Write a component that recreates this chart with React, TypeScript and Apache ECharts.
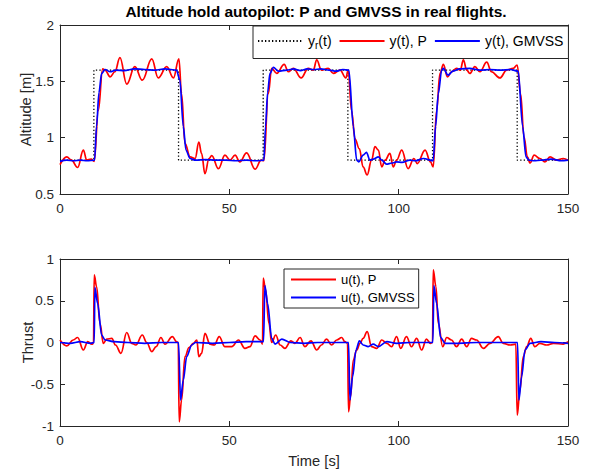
import React, { useEffect, useRef } from "react";
import * as echarts from "echarts";

// ---------- data ----------
const refT = [0, 10, 10, 35, 35, 60, 60, 85, 85, 110, 110, 135, 135, 150];
const refY = [0.8, 0.8, 1.6, 1.6, 0.8, 0.8, 1.6, 1.6, 0.8, 0.8, 1.6, 1.6, 0.8, 0.8];

const yPT = [0, 2, 3.4, 5.2, 6.9, 7.9, 9.2, 10.1, 11.3, 12.6, 13.3, 14.8, 16.2, 17.7, 19.7, 22.1, 24.3, 27.1, 29, 31.5, 33.5, 35.1, 35.9, 36.9, 38.4, 39.9, 41, 41.8, 42.8, 44, 44.8, 46.8, 48.7, 50.2, 51.7, 53.1, 55.1, 57.6, 59.4, 60.2, 61.5, 62.5, 64, 66.2, 67.4, 68.9, 71.2, 73.3, 74.8, 75.8, 77.2, 79.2, 80.7, 82.7, 84.4, 85.1, 86.1, 87.1, 88.4, 89.5, 90.7, 92, 93, 94, 95, 96, 97.4, 98.4, 99.4, 100.9, 102.8, 104.5, 105.5, 107.8, 109.4, 110.2, 111.2, 112.2, 113.2, 114.4, 115.6, 117.1, 118.2, 119.1, 120.1, 121, 122.5, 124, 126, 127.4, 129.9, 131.9, 133.8, 135, 136, 137, 138, 138.8, 140, 141.7, 143.2, 144.7, 146.6, 148.6, 150];
const yPV = [0.76, 0.83, 0.8, 0.735, 0.89, 0.8, 0.81, 0.79, 1.24, 1.61, 1.6, 1.54, 1.585, 1.71, 1.475, 1.63, 1.51, 1.7, 1.53, 1.63, 1.53, 1.7, 1.39, 0.95, 0.83, 0.815, 0.96, 0.86, 0.68, 0.815, 0.84, 0.725, 0.845, 0.8, 0.845, 0.785, 0.865, 0.72, 0.8, 0.795, 1.39, 1.615, 1.57, 1.65, 1.585, 1.615, 1.53, 1.615, 1.6, 1.69, 1.6, 1.615, 1.57, 1.6, 1.53, 1.6, 1.24, 0.99, 0.9, 0.74, 0.67, 0.8, 0.92, 0.89, 0.74, 0.8, 0.86, 0.74, 0.8, 0.89, 0.725, 0.815, 0.77, 0.89, 0.785, 0.74, 1.24, 1.57, 1.65, 1.54, 1.585, 1.615, 1.6, 1.69, 1.6, 1.57, 1.63, 1.585, 1.67, 1.585, 1.53, 1.6, 1.615, 1.645, 1.39, 1.01, 0.83, 0.775, 0.845, 0.815, 0.785, 0.83, 0.8, 0.815, 0.8];

const yGT = [0, 2, 4, 6, 8, 10.2, 10.8, 11.5, 12.3, 13.3, 14.8, 16.5, 19, 22, 25, 28, 31, 34.4, 35.4, 36.4, 37.2, 38.4, 40, 43, 46, 49, 52, 55, 58, 60.2, 60.7, 61.3, 62, 63, 64.5, 67, 69, 71, 73, 75, 77, 79.5, 81.5, 83.5, 85.3, 86.6, 87.6, 88.2, 89.5, 90.5, 91.5, 92.5, 94, 95, 96.4, 98, 99.4, 101, 103.3, 105, 107.3, 110.2, 110.9, 111.7, 112.7, 113.2, 114.6, 116, 118, 121, 124, 127, 130, 133, 135.3, 136.6, 137.6, 138.5, 140, 142, 145, 148, 150];
const yGV = [0.79, 0.8, 0.795, 0.8, 0.795, 0.8, 1.1, 1.4, 1.57, 1.605, 1.585, 1.6, 1.595, 1.61, 1.605, 1.6, 1.61, 1.6, 1.51, 1.1, 0.89, 0.815, 0.8, 0.805, 0.8, 0.8, 0.795, 0.8, 0.795, 0.8, 1.1, 1.4, 1.57, 1.625, 1.59, 1.6, 1.61, 1.595, 1.61, 1.605, 1.61, 1.6, 1.59, 1.605, 1.6, 1.1, 0.8, 0.785, 0.845, 0.87, 0.8, 0.81, 0.83, 0.8, 0.765, 0.775, 0.785, 0.78, 0.8, 0.795, 0.815, 0.795, 1.1, 1.39, 1.6, 1.615, 1.555, 1.59, 1.61, 1.615, 1.6, 1.605, 1.6, 1.605, 1.59, 1.1, 0.83, 0.8, 0.795, 0.8, 0.81, 0.795, 0.8];

const uPT = [0, 2, 3.9, 5.2, 6.9, 8.2, 9.4, 9.9, 10.1, 10.8, 11.8, 12.8, 13.8, 15.3, 16.4, 18, 19.7, 21.2, 22.4, 24.3, 25.6, 27.1, 28.4, 29.8, 31, 33.2, 34.4, 34.9, 35.2, 35.9, 36.9, 38.1, 39.4, 40.4, 41, 41.8, 42.8, 44.3, 45.6, 47, 48.7, 50.7, 52.7, 54.6, 56.1, 57.6, 59.1, 59.8, 60, 60.7, 61.7, 62.5, 63.7, 65, 66.4, 68.2, 69.4, 70.9, 72.3, 74.1, 75.8, 77.2, 78.7, 80.2, 81.7, 83.2, 84.1, 84.9, 85.2, 85.8, 86.6, 87.6, 88.6, 89.5, 90.7, 92, 93.5, 95, 96.5, 97.9, 99.4, 100.6, 102.3, 103.8, 105.3, 106.8, 108.2, 109.4, 110, 110.2, 111, 111.7, 113, 114.2, 115.6, 117.1, 118.6, 120.1, 121.5, 123, 125, 127, 129.4, 130.9, 132.9, 134.6, 135, 135.8, 136.8, 137.8, 139, 140.2, 141.7, 143.7, 145.7, 148.6, 150];
const uPV = [0.03, -0.04, 0.03, 0.06, -0.09, 0.01, -0.02, -0.01, 0.81, 0.67, 0.23, -0.01, 0.04, 0.05, -0.03, -0.13, 0.12, -0.01, -0.03, 0.09, 0, -0.11, -0.05, 0.06, -0.02, 0.07, 0.01, 0, -0.95, -0.69, -0.17, -0.06, -0.01, 0.03, -0.17, -0.13, 0.11, -0.02, -0.03, 0.07, -0.05, -0.05, 0.03, -0.07, -0.05, 0.08, 0.03, -0.02, 0.77, 0.63, 0.23, 0, 0.09, -0.03, -0.07, 0.02, -0.01, 0.06, -0.05, 0.02, -0.09, -0.03, 0.04, -0.03, 0.03, 0.06, 0.01, -0.01, -0.83, -0.65, -0.21, -0.09, -0.01, 0.05, 0.13, -0.05, -0.07, 0.03, -0.01, -0.05, 0.07, -0.07, 0.07, -0.05, 0.05, -0.09, 0.04, -0.01, 0, 0.87, 0.67, 0.23, -0.05, 0.06, 0.03, -0.05, 0.04, -0.05, 0.05, 0.03, -0.07, -0.01, 0.07, -0.01, -0.03, -0.02, -0.87, -0.57, -0.17, -0.05, 0.05, -0.05, -0.01, -0.03, -0.01, -0.02, 0.01];

const uGT = [0, 3, 6, 9, 10.1, 10.3, 11.1, 12.3, 13.3, 16, 20, 25, 30, 35, 35.6, 36.4, 37.4, 38.9, 40, 45, 50, 55, 60.1, 60.5, 61.3, 62.5, 63.5, 65.5, 68, 72, 76, 80, 85.2, 85.6, 86.4, 87.4, 88.4, 89.5, 91, 92.5, 94, 96.5, 99.4, 103.3, 107, 110.1, 110.4, 111.2, 112.4, 113.7, 117, 123, 130, 135.1, 135.5, 136.3, 137.3, 138.8, 142, 146, 150];
const uGV = [0, -0.01, 0.01, -0.01, 0, 0.66, 0.47, 0.09, 0.03, 0.01, 0, -0.01, 0, 0, -0.69, -0.45, -0.17, -0.03, 0, -0.01, 0, 0.01, 0.01, 0.68, 0.47, 0.05, -0.02, 0.04, 0, -0.01, 0, 0, 0, -0.69, -0.41, -0.09, 0.02, -0.03, -0.05, -0.02, -0.05, 0.01, -0.01, 0, 0, 0, 0.68, 0.47, 0.06, -0.01, -0.01, 0, 0, 0, -0.69, -0.41, -0.09, -0.01, 0.01, 0, -0.01];

const xTicks = { min: 0, max: 150, interval: 50 };
const yTopTicks = { min: 0.5, max: 2, interval: 0.5 };
const yBotTicks = { min: -1, max: 1, interval: 0.5 };

const zip = (t: number[], v: number[]) => t.map((x, i) => [x, v[i]]);

const FONT = "'Liberation Sans', Arial, Helvetica, sans-serif";
const AX = "#262626";

export default function App() {
  const ref = useRef<HTMLDivElement>(null);
  useEffect(() => {
    if (!ref.current) return;
    const chart = echarts.init(ref.current, undefined, { renderer: "svg" });
    const axLine = { show: true, onZero: false, lineStyle: { color: AX, width: 1 } };
    const tick = { show: true, inside: true, length: 5, lineStyle: { color: AX, width: 1 } };
    const lbl = { fontSize: 13.5, color: AX, fontFamily: FONT };
    const mkX = (grid: number, pos: string, labels: boolean, name?: string) => ({
      type: "value", gridIndex: grid, position: pos, ...xTicks,
      axisLine: axLine, axisTick: tick,
      axisLabel: labels ? { ...lbl, margin: 7 } : { show: false },
      splitLine: { show: false },
      name: name || "", nameLocation: "middle", nameGap: 27, nameMoveOverlap: false,
      nameTextStyle: { fontSize: 14.7, color: AX, fontFamily: FONT },
    });
    const mkY = (grid: number, pos: string, labels: boolean, ticks: any, name?: string, gap?: number) => ({
      type: "value", gridIndex: grid, position: pos, ...ticks,
      axisLine: axLine, axisTick: tick,
      axisLabel: labels ? { ...lbl, margin: 6 } : { show: false },
      splitLine: { show: false },
      name: name || "", nameLocation: "middle", nameGap: gap || 21, nameMoveOverlap: false,
      nameTextStyle: { fontSize: 14.7, color: AX, fontFamily: FONT },
    });
    const nameMap: Record<string, string> = {
      yr: "y{s|r}(t)",
      yP: "y(t), P",
      yG: "y(t), GMVSS",
      uP: "u(t), P",
      uG: "u(t), GMVSS",
    };
    const noSym = { opacity: 0, borderWidth: 0 };
    chart.setOption({
      animation: false,
      backgroundColor: "#ffffff",
      title: {
        text: "Altitude hold autopilot: P and GMVSS in real flights.",
        left: 316, top: 3, textAlign: "center", padding: 0,
        textStyle: { fontSize: 15.5, fontWeight: "bold", color: "#000", fontFamily: FONT },
      },
      grid: [
        { left: 60, top: 25, width: 508, height: 169, show: true, backgroundColor: "#fff", borderWidth: 0 },
        { left: 60, top: 259, width: 508, height: 167, show: true, backgroundColor: "#fff", borderWidth: 0 },
      ],
      xAxis: [mkX(0, "bottom", true), mkX(0, "top", false), mkX(1, "bottom", true, "Time [s]"), mkX(1, "top", false)],
      yAxis: [
        mkY(0, "left", true, yTopTicks, "Altitude [m]", 27),
        mkY(0, "right", false, yTopTicks),
        mkY(1, "left", true, yBotTicks, "Thrust", 25),
        mkY(1, "right", false, yBotTicks),
      ],
      legend: [
        {
          data: ["yr", "yP", "yG"],
          orient: "horizontal", left: 253, top: 26,
          itemWidth: 45, itemHeight: 14, itemGap: 7,
          padding: [8, 5, 8, 4],
          borderColor: AX, borderWidth: 1, backgroundColor: "#fff",
          itemStyle: noSym,
          formatter: (n: string) => nameMap[n],
          textStyle: {
            fontSize: 14, color: "#000", fontFamily: FONT,
            rich: { s: { fontSize: 10, fontFamily: FONT, color: "#000", padding: [9, 0, 0, 0] } },
          },
        },
        {
          data: ["uP", "uG"],
          orient: "vertical", left: 284, top: 269,
          itemWidth: 45, itemHeight: 14, itemGap: 5,
          padding: [4, 4, 4, 6],
          borderColor: AX, borderWidth: 1, backgroundColor: "#fff",
          itemStyle: noSym,
          formatter: (n: string) => nameMap[n],
          textStyle: { fontSize: 13, color: "#000", fontFamily: FONT },
        },
      ],
      series: [
        {
          name: "yr", type: "line", xAxisIndex: 0, yAxisIndex: 0, data: zip(refT, refY),
          symbol: "none", lineStyle: { color: "#000", width: 1.3, type: [1.3, 2.2] }, itemStyle: { color: "#000" },
        },
        {
          name: "yP", type: "line", xAxisIndex: 0, yAxisIndex: 0, data: zip(yPT, yPV),
          symbol: "none", smooth: 0.4, smoothMonotone: "x",
          lineStyle: { color: "#ff0000", width: 1.7 }, itemStyle: { color: "#ff0000" },
        },
        {
          name: "yG", type: "line", xAxisIndex: 0, yAxisIndex: 0, data: zip(yGT, yGV),
          symbol: "none", smooth: 0.3, smoothMonotone: "x",
          lineStyle: { color: "#0000ff", width: 1.7 }, itemStyle: { color: "#0000ff" },
        },
        {
          name: "uP", type: "line", xAxisIndex: 2, yAxisIndex: 2, data: zip(uPT, uPV),
          symbol: "none", smooth: 0.4, smoothMonotone: "x",
          lineStyle: { color: "#ff0000", width: 1.7 }, itemStyle: { color: "#ff0000" },
        },
        {
          name: "uG", type: "line", xAxisIndex: 2, yAxisIndex: 2, data: zip(uGT, uGV),
          symbol: "none", smooth: 0.3, smoothMonotone: "x",
          lineStyle: { color: "#0000ff", width: 1.7 }, itemStyle: { color: "#0000ff" },
        },
      ],
    });
    return () => chart.dispose();
  }, []);
  return (
    <div
      ref={ref}
      style={{ position: "fixed", left: 0, top: 0, width: 590, height: 474, background: "#fff" }}
    />
  );
}
